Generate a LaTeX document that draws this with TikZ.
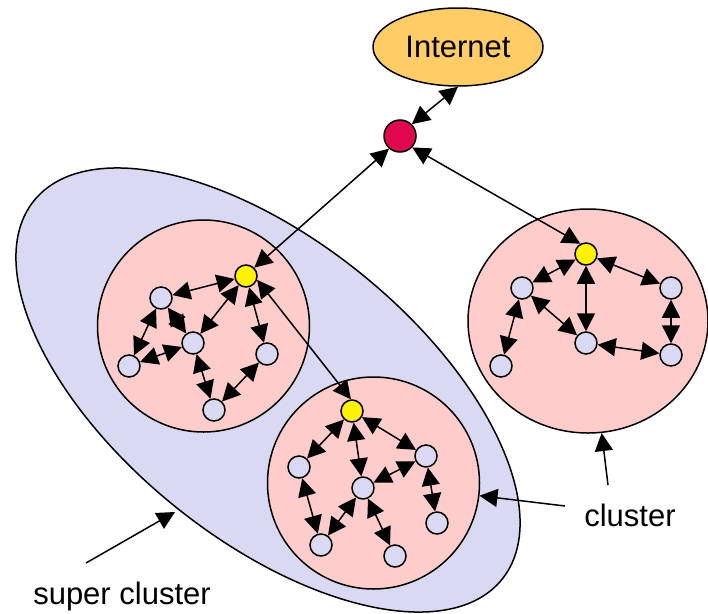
\documentclass[tikz,border=0pt]{standalone}
\usepackage{fontspec}
\setmainfont{Liberation Sans}
\usetikzlibrary{arrows.meta,shapes.geometric}
\definecolor{lav}{RGB}{217,217,243}
\definecolor{pinkc}{RGB}{255,204,204}
\definecolor{inetc}{RGB}{255,204,102}
\definecolor{redc}{RGB}{224,6,80}
\begin{document}
\begin{tikzpicture}[x=1pt,y=1pt,
  >={Triangle[length=18pt,width=18pt]},
  link/.style={<->,line width=1.5pt},
  arr/.style={->,line width=1.5pt},
  pt/.style={circle,draw,line width=1.5pt,fill=lav,inner sep=0pt,minimum size=22pt},
  hub/.style={pt,fill=yellow},
  clus/.style={circle,draw,line width=1.5pt,fill=pinkc,inner sep=0pt,minimum size=212pt},
  lbl/.style={font=\fontsize{31}{37}\selectfont,inner sep=0pt}]
\useasboundingbox (0,0) rectangle (708,-613);
% super cluster
\draw[line width=1.5pt,fill=lav,rotate around={-39:(268,-390)}] (268,-390) ellipse [x radius=301,y radius=149];
% clusters
\node[clus] (c1) at (203.5,-326) {};
\node[clus] (c2) at (373.5,-483) {};
\node[ellipse,draw,line width=1.5pt,fill=pinkc,inner sep=0pt,minimum width=240pt,minimum height=224pt] (c3) at (588,-321) {};
% internet and gateway
\node[ellipse,draw,line width=1.5pt,fill=inetc,inner sep=0pt,minimum width=170pt,minimum height=78pt,font=\fontsize{31}{37}\selectfont] (inet) at (458,-47) {Internet};
\node[circle,draw,line width=1.5pt,fill=redc,inner sep=0pt,minimum size=32pt] (red) at (400,-136) {};
% cluster 1
\node[hub] (y1) at (246,-276) {};
\node[pt] (a) at (161,-298) {};
\node[pt] (b) at (193,-343) {};
\node[pt] (c) at (129,-366) {};
\node[pt] (d) at (267,-354) {};
\node[pt] (e) at (214,-410) {};
% cluster 2
\node[hub] (y2) at (352,-411) {};
\node[pt] (f) at (299,-467) {};
\node[pt] (g) at (363,-488) {};
\node[pt] (h) at (426,-456) {};
\node[pt] (i) at (321,-545) {};
\node[pt] (j) at (395,-556) {};
\node[pt] (k) at (437,-523) {};
% cluster 3
\node[hub] (y3) at (586,-254) {};
\node[pt] (l) at (522,-288) {};
\node[pt] (m) at (501,-366) {};
\node[pt] (n) at (586,-343) {};
\node[pt] (o) at (671,-288) {};
\node[pt] (p) at (671,-355) {};
% edges cluster 1
\draw[link] (y1) -- (a);
\draw[link] (y1) -- (b);
\draw[link] (y1) -- (d);
\draw[link] (a) -- (c);
\draw[link] (a) -- (b);
\draw[link] (c) -- (b);
\draw[link] (b) -- (e);
\draw[link] (d) -- (e);
% edges cluster 2
\draw[link] (y2) -- (f);
\draw[link] (y2) -- (g);
\draw[link] (y2) -- (h);
\draw[link] (f) -- (i);
\draw[link] (g) -- (i);
\draw[link] (g) -- (j);
\draw[link] (h) -- (g);
\draw[link] (h) -- (k);
% edges cluster 3
\draw[link] (y3) -- (l);
\draw[link] (y3) -- (n);
\draw[link] (y3) -- (o);
\draw[link] (l) -- (m);
\draw[link] (l) -- (n);
\draw[link] (n) -- (p);
\draw[link] (o) -- (p);
% backbone
\draw[link] (inet.south) -- (red.north east);
\draw[link] (red.229) -- (y1.45);
\draw[link] (red.-43) -- (y3.119);
\draw[link] (y1.-19) -- (y2.95);
% labels
\node[lbl,anchor=base] (tcl) at (630,-526) {cluster};
\node[lbl,anchor=base] (tsc) at (122,-604) {super cluster};
\coordinate (clA) at (565,-506);
\coordinate (clB) at (608,-485);
\coordinate (scA) at (86,-563);
\coordinate (scB) at (175,-512);
\draw[arr] (clA) -- (c2);
\draw[arr] (clB) -- (c3);
\draw[arr] (scA) -- (scB);
\end{tikzpicture}
\end{document}
